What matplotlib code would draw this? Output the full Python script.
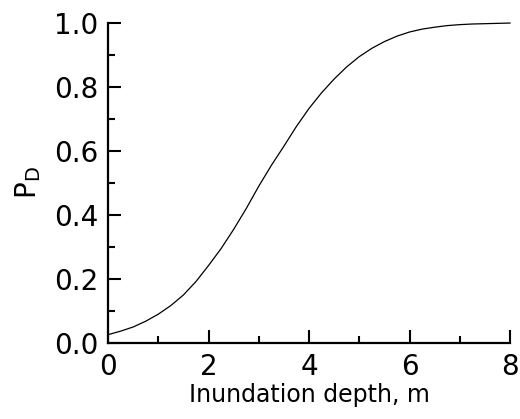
import matplotlib
matplotlib.use('Agg')
import matplotlib.pyplot as plt
from matplotlib.ticker import MultipleLocator

# values
depth = [0.0, 0.25, 0.5, 0.75, 1.0, 1.25, 1.5, 1.75, 2.0, 2.25, 2.5, 2.75,
         3.0, 3.25, 3.5, 3.75, 4.0, 4.25, 4.5, 4.75, 5.0, 5.25, 5.5, 5.75,
         6.0, 6.25, 6.5, 6.75, 7.0, 7.25, 7.5, 7.75, 8.0]
p_d = [0.026, 0.037, 0.050, 0.068, 0.090, 0.117, 0.150, 0.192, 0.242, 0.295,
       0.355, 0.420, 0.490, 0.555, 0.615, 0.677, 0.733, 0.782, 0.825, 0.863,
       0.895, 0.921, 0.942, 0.959, 0.972, 0.981, 0.987, 0.992, 0.995, 0.997,
       0.998, 0.999, 1.000]

x_ticks = [0, 2, 4, 6, 8]
y_ticks = [0.0, 0.2, 0.4, 0.6, 0.8, 1.0]

plt.rcParams['font.family'] = ['DejaVu Sans']
plt.rcParams['mathtext.default'] = 'regular'

fig = plt.figure(figsize=(5.2, 4.19), dpi=100)
ax = fig.add_axes([0.2077, 0.1814, 0.7731, 0.7636])

ax.plot(depth, p_d, color='black', lw=0.9, clip_on=False)

ax.set_xlim(0, 8)
ax.set_ylim(0, 1)
ax.set_xticks(x_ticks)
ax.set_yticks(y_ticks)
ax.set_yticklabels([f'{v:.1f}' for v in y_ticks])
ax.xaxis.set_minor_locator(MultipleLocator(1))
ax.yaxis.set_minor_locator(MultipleLocator(0.1))

for s in ['top', 'right']:
    ax.spines[s].set_visible(False)
for s in ['left', 'bottom']:
    ax.spines[s].set_linewidth(1.6)

ax.tick_params(which='major', direction='in', length=9.5, width=1.5,
               labelsize=20, pad=7)
ax.tick_params(which='minor', direction='in', length=5, width=1.5)

ax.set_xlabel('Inundation depth, m', fontsize=17, labelpad=2)
ax.set_ylabel(r'P$_{D}$', fontsize=20, labelpad=8)

fig.savefig('out.png', dpi=100)
